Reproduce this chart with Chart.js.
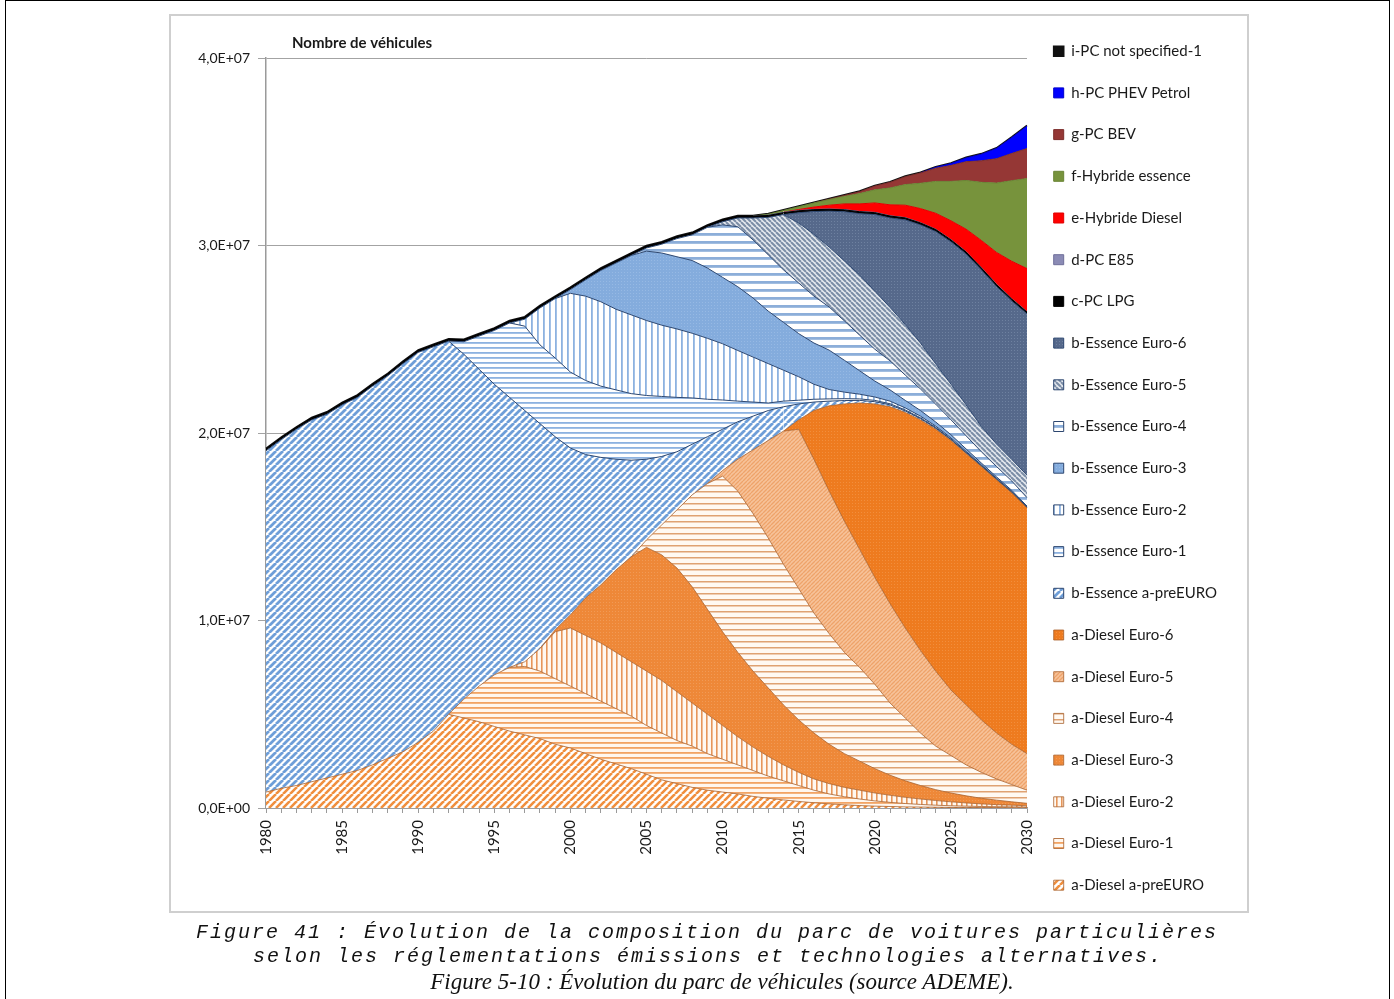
<!DOCTYPE html>
<html>
<head>
<meta charset="utf-8">
<script src="https://cdn.jsdelivr.net/npm/chart.js@4.4.1/dist/chart.umd.min.js"></script>
<style>
html,body{margin:0;padding:0;background:#fff;width:1394px;height:999px;overflow:hidden;}
#frame{position:absolute;left:5px;top:0;width:1385px;height:1010px;border:1px solid #000;box-sizing:border-box;}
#box{position:absolute;left:169px;top:14px;width:1080px;height:899px;border:2px solid #cfcfcf;box-sizing:border-box;}
#wrap{position:absolute;left:171px;top:17px;width:1076px;height:910px;}
.cap{position:absolute;width:1394px;text-align:center;color:#111;white-space:nowrap;}
.mono{font-family:'Liberation Mono','DejaVu Sans Mono',monospace;font-style:italic;font-size:20px;letter-spacing:2px;}
.serif{font-family:'Liberation Serif','DejaVu Serif',serif;font-style:italic;font-size:23px;}
</style>
</head>
<body>
<div id="frame"></div>
<div id="box"></div>
<div id="wrap"><canvas id="c" width="1076" height="910"></canvas></div>
<div class="cap mono" style="left:10px;top:921px;">Figure 41 : Évolution de la composition du parc de voitures particulières</div>
<div class="cap mono" style="left:11px;top:945px;">selon les réglementations émissions et technologies alternatives.</div>
<div class="cap serif" style="left:25px;top:969px;">Figure 5-10 : Évolution du parc de véhicules (source ADEME).</div>
<script>
// Categories (years)
const YEARS = [1980,1981,1982,1983,1984,1985,1986,1987,1988,1989,
               1990,1991,1992,1993,1994,1995,1996,1997,1998,1999,
               2000,2001,2002,2003,2004,2005,2006,2007,2008,2009,
               2010,2011,2012,2013,2014,2015,2016,2017,2018,2019,
               2020,2021,2022,2023,2024,2025,2026,2027,2028,2029,
               2030];

// Values in millions of vehicles
const dieselPreEuro = [0.85,1.05,1.2,1.4,1.6,1.8,2.0,2.3,2.65,3.0,
  3.5,4.1,5.0,4.8,4.6,4.35,4.1,3.9,3.7,3.4,
  3.2,2.9,2.6,2.35,2.1,1.8,1.5,1.3,1.1,0.95,
  0.85,0.75,0.62,0.52,0.43,0.35,0.28,0.22,0.17,0.13,
  0.1,0.08,0.06,0.05,0.04,0.03,0.03,0.02,0.02,0.01,
  0.01];
const dieselEuro1 = [0,0,0,0,0,0,0,0,0,0,
  0,0,0,1.0,1.9,2.75,3.4,3.65,3.6,3.5,
  3.3,3.2,3.1,2.95,2.8,2.6,2.5,2.3,2.2,1.95,
  1.75,1.55,1.38,1.18,1.02,0.85,0.67,0.53,0.43,0.35,
  0.28,0.22,0.18,0.14,0.11,0.09,0.07,0.06,0.05,0.05,
  0.04];
const dieselEuro2 = [0,0,0,0,0,0,0,0,0,0,
  0,0,0,0,0,0,0,0.25,1.2,2.5,
  3.1,3.1,3.1,3.0,2.9,2.9,2.8,2.6,2.3,2.1,
  1.8,1.5,1.25,1.05,0.85,0.7,0.6,0.55,0.5,0.47,
  0.42,0.38,0.33,0.29,0.25,0.21,0.17,0.14,0.11,0.09,
  0.07];
const dieselEuro3 = [0,0,0,0,0,0,0,0,0,0,
  0,0,0,0,0,0,0,0,0,0.1,
  0.7,2.0,3.1,4.4,5.6,6.6,6.7,6.6,6.2,5.6,
  5.0,4.5,4.05,3.65,3.2,2.8,2.45,2.1,1.8,1.55,
  1.3,1.07,0.88,0.72,0.58,0.47,0.38,0.3,0.24,0.18,
  0.13];
const dieselEuro4 = [0,0,0,0,0,0,0,0,0,0,
  0,0,0,0,0,0,0,0,0,0,
  0,0,0,0,0,0.4,1.6,3.1,4.9,6.7,
  8.3,8.6,8.4,8.0,7.5,7.0,6.4,5.9,5.4,5.0,
  4.5,3.85,3.35,2.8,2.32,2.0,1.65,1.38,1.13,0.92,
  0.7];
const dieselEuro5 = [0,0,0,0,0,0,0,0,0,0,
  0,0,0,0,0,0,0,0,0,0,
  0,0,0,0,0,0,0,0,0,0,
  0.3,1.7,3.4,5.2,7.1,8.5,8.2,7.6,7.0,6.3,
  5.7,5.3,4.8,4.4,4.0,3.5,3.2,2.8,2.45,2.15,
  1.95];
const dieselEuro6 = [0,0,0,0,0,0,0,0,0,0,
  0,0,0,0,0,0,0,0,0,0,
  0,0,0,0,0,0,0,0,0,0,
  0,0,0,0,0,0.5,2.6,4.55,6.25,7.8,
  9.25,10.5,11.5,12.3,12.9,13.3,13.4,13.5,13.5,13.4,
  13.1];
const essencePreEuro = [18.2,18.6,19.0,19.3,19.4,19.7,19.9,20.2,20.4,20.7,
  20.8,20.5,19.9,18.4,16.9,15.5,14.4,13.4,12.0,10.3,
  8.9,7.65,6.8,5.9,5.15,4.3,3.65,3.1,2.7,2.5,
  2.2,2.0,1.8,1.6,1.3,0.85,0.45,0.25,0.18,0.14,
  0.12,0.1,0.08,0.07,0.06,0.05,0.04,0.04,0.03,0.03,
  0.02];
const essenceEuro1 = [0,0,0,0,0,0,0,0,0,0,
  0,0,0,0.67,1.77,2.87,3.97,4.5,4.2,4.2,
  4.05,3.95,3.8,3.7,3.55,3.4,3.2,2.9,2.47,2.0,
  1.56,1.1,0.75,0.4,0.3,0.2,0.15,0.12,0.1,0.08,
  0.07,0.06,0.05,0.04,0.04,0.03,0.03,0.02,0.02,0.02,
  0.01];
const essenceEuro2 = [0,0,0,0,0,0,0,0,0,0,
  0,0,0,0,0,0,0,0.37,1.97,3.17,
  4.2,4.5,4.5,4.3,4.2,4.0,3.8,3.65,3.45,3.25,
  3.0,2.7,2.4,2.1,1.65,1.25,0.8,0.5,0.35,0.25,
  0.18,0.14,0.11,0.09,0.07,0.06,0.05,0.04,0.03,0.03,
  0.02];
const essenceEuro3 = [0,0,0,0,0,0,0,0,0,0,
  0,0,0,0,0,0,0,0,0,0,
  0.2,0.87,1.67,2.47,3.17,3.7,3.85,3.85,3.88,3.75,
  3.54,3.4,3.15,2.8,2.55,2.3,2.2,2.1,1.7,1.25,
  0.85,0.6,0.4,0.3,0.22,0.17,0.13,0.1,0.08,0.06,
  0.05];
const essenceEuro4 = [0,0,0,0,0,0,0,0,0,0,
  0,0,0,0,0,0,0,0,0,0,
  0,0,0,0,0,0.17,0.47,0.97,1.37,2.17,
  2.8,3.2,3.1,3.0,2.8,2.7,2.5,2.3,2.1,1.9,
  1.7,1.55,1.35,1.15,0.95,0.8,0.7,0.6,0.55,0.5,
  0.45];
const essenceEuro5 = [0,0,0,0,0,0,0,0,0,0,
  0,0,0,0,0,0,0,0,0,0,
  0,0,0,0,0,0,0,0,0,0,
  0.17,0.47,1.17,2.0,2.95,3.2,3.3,3.2,3.2,3.2,
  3.1,2.85,2.7,2.45,2.15,1.9,1.65,1.35,1.2,1.15,
  1.2];
const essenceEuro6 = [0,0,0,0,0,0,0,0,0,0,
  0,0,0,0,0,0,0,0,0,0,
  0,0,0,0,0,0,0,0,0,0,
  0,0,0,0,0,0.55,1.21,1.91,2.62,3.28,
  4.08,4.77,5.58,6.3,7.06,7.59,8.05,8.35,8.4,8.45,
  8.6];
const pcLPG = [0.1,0.1,0.1,0.1,0.1,0.1,0.1,0.1,0.1,0.1,
  0.1,0.1,0.1,0.1,0.1,0.1,0.1,0.1,0.1,0.1,
  0.1,0.1,0.1,0.1,0.1,0.1,0.1,0.1,0.1,0.1,
  0.1,0.1,0.1,0.1,0.1,0.1,0.1,0.1,0.1,0.1,
  0.1,0.1,0.1,0.1,0.1,0.1,0.1,0.1,0.1,0.1,
  0.1];
const pcE85 = [0,0,0,0,0,0,0,0,0,0,
  0,0,0,0,0,0,0,0,0,0,
  0,0,0,0,0,0,0,0,0,0,
  0,0,0,0.02,0.02,0.02,0.02,0.02,0.02,0.02,
  0.02,0.02,0.02,0.02,0.02,0.02,0.02,0.02,0.02,0.02,
  0.02];
const hybrideDiesel = [0,0,0,0,0,0,0,0,0,0,
  0,0,0,0,0,0,0,0,0,0,
  0,0,0,0,0,0,0,0,0,0,
  0,0,0,0,0,0.05,0.12,0.2,0.3,0.4,
  0.5,0.58,0.66,0.75,0.85,1.0,1.2,1.45,1.7,2.0,
  2.3];
const hybrideEssence = [0,0,0,0,0,0,0,0,0,0,
  0,0,0,0,0,0,0,0,0,0,
  0,0,0,0,0,0,0,0,0,0,
  0,0,0,0.05,0.1,0.15,0.22,0.3,0.4,0.55,
  0.7,0.9,1.1,1.35,1.7,2.1,2.6,3.1,3.7,4.3,
  4.8];
const pcBEV = [0,0,0,0,0,0,0,0,0,0,
  0,0,0,0,0,0,0,0,0,0,
  0,0,0,0,0,0,0,0,0,0,
  0,0,0,0,0,0,0,0.02,0.05,0.1,
  0.2,0.3,0.42,0.55,0.7,0.85,1.0,1.15,1.3,1.45,
  1.6];
const pcPHEV = [0,0,0,0,0,0,0,0,0,0,
  0,0,0,0,0,0,0,0,0,0,
  0,0,0,0,0,0,0,0,0,0,
  0,0,0,0,0,0,0,0,0,0,
  0,0,0,0,0.05,0.1,0.2,0.35,0.55,0.85,
  1.2];
const pcNotSpecified = [0.03,0.03,0.03,0.03,0.03,0.03,0.03,0.03,0.03,0.03,
  0.03,0.03,0.03,0.03,0.03,0.03,0.03,0.03,0.03,0.03,
  0.03,0.03,0.03,0.03,0.03,0.03,0.03,0.03,0.03,0.03,
  0.03,0.03,0.03,0.03,0.03,0.03,0.03,0.03,0.03,0.03,
  0.03,0.03,0.03,0.03,0.03,0.03,0.03,0.03,0.03,0.03,
  0.03];

// Y tick labels
const Y_TICK_LABELS = ['0,0E+00','1,0E+07','2,0E+07','3,0E+07','4,0E+07'];

// ---- fill patterns ----
const canvasEl = document.getElementById('c');
function pat(type, bg, fg, size, lw) {
  const c = document.createElement('canvas');
  c.width = size; c.height = size;
  const g = c.getContext('2d');
  g.fillStyle = bg; g.fillRect(0, 0, size, size);
  g.fillStyle = fg; g.strokeStyle = fg; g.lineWidth = lw;
  if (type === 'h') { g.fillRect(0, 0, size, lw); }
  else if (type === 'v') { g.fillRect(0, 0, lw, size); }
  else if (type === 'd') {
    g.beginPath();
    for (const o of [-size, 0, size]) { g.moveTo(o, size); g.lineTo(o + size, 0); }
    g.stroke();
  } else if (type === 'b') {
    g.beginPath();
    for (const o of [-size, 0, size]) { g.moveTo(o, 0); g.lineTo(o + size, size); }
    g.stroke();
  } else if (type === 'dot') {
    g.fillRect(0, 0, lw, lw);
  }
  return canvasEl.getContext('2d').createPattern(c, 'repeat');
}

const ORANGE_LINE = '#a8612c';
const BLUE_LINE = '#2d4770';
const series = [
  ['a-Diesel a-preEURO', dieselPreEuro, pat('d', '#ffffff', '#f08f3e', 7, 2.6), ORANGE_LINE, 0.8],
  ['a-Diesel Euro-1', dieselEuro1, pat('h', '#fff7ef', '#f2a464', 5, 1.8), ORANGE_LINE, 0.8],
  ['a-Diesel Euro-2', dieselEuro2, pat('v', '#fff8f0', '#e6965a', 5, 1.6), ORANGE_LINE, 0.8],
  ['a-Diesel Euro-3', dieselEuro3, pat('dot', '#ee8838', '#f19a55', 3, 1), ORANGE_LINE, 0.8],
  ['a-Diesel Euro-4', dieselEuro4, pat('h', '#fff9f2', '#dfa272', 6, 1.5), ORANGE_LINE, 0.8],
  ['a-Diesel Euro-5', dieselEuro5, pat('d', '#f7c39a', '#eea36a', 4, 1.3), ORANGE_LINE, 0.8],
  ['a-Diesel Euro-6', dieselEuro6, pat('dot', '#ee7b1f', '#f28e3c', 3, 1), ORANGE_LINE, 0.8],
  ['b-Essence a-preEURO', essencePreEuro, pat('d', '#ffffff', '#6e9ed8', 7, 2.8), BLUE_LINE, 1],
  ['b-Essence Euro-1', essenceEuro1, pat('h', '#ffffff', '#8db2e0', 5, 1.8), BLUE_LINE, 1],
  ['b-Essence Euro-2', essenceEuro2, pat('v', '#ffffff', '#8db2e0', 6, 1.8), BLUE_LINE, 1],
  ['b-Essence Euro-3', essenceEuro3, pat('dot', '#84acdd', '#96b9e4', 3, 1), BLUE_LINE, 1],
  ['b-Essence Euro-4', essenceEuro4, pat('h', '#ffffff', '#8caed9', 8, 2.8), BLUE_LINE, 1],
  ['b-Essence Euro-5', essenceEuro5, pat('b', '#e4e8ee', '#7b8da6', 5, 2), BLUE_LINE, 1],
  ['b-Essence Euro-6', essenceEuro6, pat('dot', '#56698b', '#6e81a0', 3, 1), BLUE_LINE, 1],
  ['c-PC LPG', pcLPG, '#000000', '#000000', 1],
  ['d-PC E85', pcE85, '#8b8bb5', '#6f6f99', 1],
  ['e-Hybride Diesel', hybrideDiesel, '#ff0000', '#e00000', 1],
  ['f-Hybride essence', hybrideEssence, '#77933c', '#6a8535', 1],
  ['g-PC BEV', pcBEV, '#953735', '#7d2d2b', 1],
  ['h-PC PHEV Petrol', pcPHEV, '#0000ff', '#0000cc', 1],
  ['i-PC not specified-1', pcNotSpecified, '#111111', '#111111', 1.6]
];

const datasets = series.map(([label, data, bg, line, bw], i) => ({
  label, data,
  backgroundColor: bg,
  borderColor: line,
  borderWidth: bw,
  fill: i === 0 ? 'origin' : '-1',
  pointRadius: 0,
  tension: 0,
  segment: {
    borderColor: ctx => (data[ctx.p0DataIndex] === 0 && data[ctx.p1DataIndex] === 0) ? 'rgba(0,0,0,0)' : undefined
  }
}));

const FONT = 'Lato, "Open Sans", sans-serif';
const LEGEND_SIZE = 15, LEGEND_PAD = 26.7, BOX = 10;
// measure the widest legend label to place the legend right of a fixed plot area
const mctx = canvasEl.getContext('2d');
mctx.font = LEGEND_SIZE + 'px ' + FONT;
const widest = Math.max(...series.map(s => mctx.measureText(s[0]).width));
const legendWidth = LEGEND_PAD + BOX + LEGEND_SIZE / 2 + widest + 10;
const PLOT_RIGHT = 856; // canvas px
const padRight = Math.max(0, canvasEl.width - PLOT_RIGHT - legendWidth);

// shift the axis title a little to the right of the plot's left edge, as in the original
const titleShift = {
  id: 'titleShift',
  afterLayout(chart) {
    const t = chart.titleBlock;
    if (t) { t.left += 26; t.right += 26; }
  }
};

new Chart(canvasEl, {
  type: 'line',
  data: { labels: YEARS, datasets },
  plugins: [titleShift],
  options: {
    responsive: false,
    animation: false,
    devicePixelRatio: 1,
    layout: { padding: { left: 0, top: 0, right: padRight, bottom: 0 } },
    plugins: {
      legend: {
        position: 'right', align: 'start', reverse: true, maxWidth: 400,
        labels: { boxWidth: BOX, boxHeight: BOX, padding: LEGEND_PAD, color: '#1a1a1a', font: { family: FONT, size: LEGEND_SIZE } }
      },
      title: {
        display: true, text: 'Nombre de véhicules', align: 'start', fullSize: false,
        color: '#1a1a1a', font: { family: FONT, size: 15, weight: 'bold' },
        padding: { top: 17, bottom: 6 }
      },
      tooltip: { enabled: false }
    },
    scales: {
      x: {
        type: 'category', offset: false,
        grid: { drawOnChartArea: false, tickLength: 5, color: '#9a9a9a' },
        border: { color: '#9a9a9a', width: 1.5 },
        ticks: {
          autoSkip: false, maxRotation: 90, minRotation: 90, padding: 7,
          color: '#1a1a1a', font: { family: FONT, size: 15 },
          callback: (v, i) => (YEARS[i] % 5 === 0 ? String(YEARS[i]) : '')
        },
        afterFit: s => { s.height = 119; }
      },
      y: {
        stacked: true, min: 0, max: 40,
        ticks: {
          stepSize: 10, padding: 8, color: '#1a1a1a', font: { family: FONT, size: 14 },
          callback: (v) => Y_TICK_LABELS[Math.round(v / 10)]
        },
        grid: { color: '#a3a3a3', tickLength: 8 },
        border: { color: '#9a9a9a', width: 1.5 },
        afterFit: s => { s.width = 95; }
      }
    }
  }
});
</script>
</body>
</html>
